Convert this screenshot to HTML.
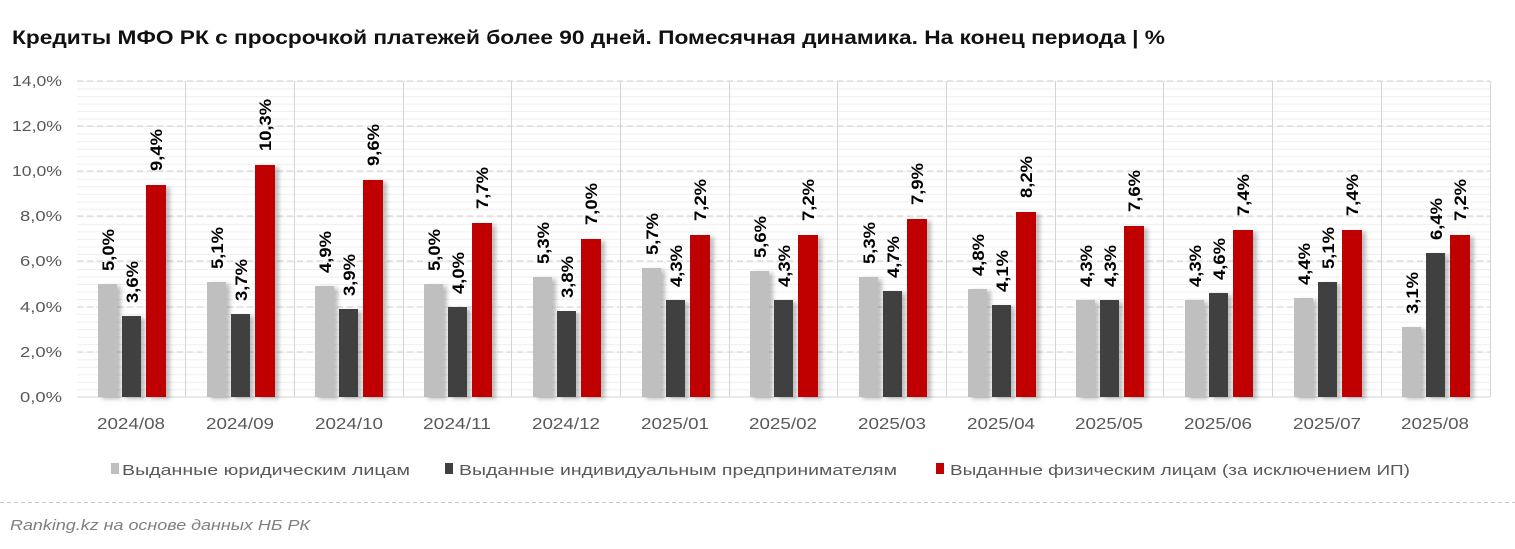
<!DOCTYPE html>
<html><head><meta charset="utf-8"><style>
html,body{margin:0;padding:0;background:#fff;}
svg{display:block;font-family:"Liberation Sans",sans-serif;}
.t{font-size:15px;fill:#595959;}
.l{font-size:17px;font-weight:bold;fill:#000;}
</style></head><body>
<svg width="1515" height="549" viewBox="0 0 1515 549" xmlns="http://www.w3.org/2000/svg">
<defs>
<pattern id="mg" width="10" height="7.52" patternUnits="userSpaceOnUse" y="81">
<line x1="0" y1="0.5" x2="10" y2="0.5" stroke="#efefef" stroke-width="1"/>
</pattern>
<filter id="sh" x="-30%" y="-10%" width="180%" height="120%"><feDropShadow dx="4" dy="2" stdDeviation="2" flood-color="#000" flood-opacity="0.25"/></filter>
</defs>
<text x="12" y="44" font-size="19" font-weight="bold" fill="#111" textLength="1153" lengthAdjust="spacingAndGlyphs">Кредиты МФО РК с просрочкой платежей более 90 дней. Помесячная динамика. На конец периода | %</text>
<rect x="77" y="81" width="1413" height="316" fill="url(#mg)"/>
<g stroke="#d0d0d0" stroke-dasharray="6,4" stroke-width="1">
<line x1="77" y1="81" x2="1490" y2="81"/><line x1="77" y1="126" x2="1490" y2="126"/><line x1="77" y1="171" x2="1490" y2="171"/><line x1="77" y1="216" x2="1490" y2="216"/><line x1="77" y1="261" x2="1490" y2="261"/><line x1="77" y1="307" x2="1490" y2="307"/><line x1="77" y1="352" x2="1490" y2="352"/>
</g>
<g stroke="#d4d4d4" stroke-width="1">
<line x1="77" y1="397" x2="1490" y2="397"/>
<line x1="185.5" y1="81" x2="185.5" y2="397"/><line x1="294.5" y1="81" x2="294.5" y2="397"/><line x1="403.5" y1="81" x2="403.5" y2="397"/><line x1="511.5" y1="81" x2="511.5" y2="397"/><line x1="620.5" y1="81" x2="620.5" y2="397"/><line x1="729.5" y1="81" x2="729.5" y2="397"/><line x1="837.5" y1="81" x2="837.5" y2="397"/><line x1="946.5" y1="81" x2="946.5" y2="397"/><line x1="1055.5" y1="81" x2="1055.5" y2="397"/><line x1="1163.5" y1="81" x2="1163.5" y2="397"/><line x1="1272.5" y1="81" x2="1272.5" y2="397"/><line x1="1381.5" y1="81" x2="1381.5" y2="397"/><line x1="1490.5" y1="81" x2="1490.5" y2="397"/>
</g>
<g class="t" text-anchor="end" lengthAdjust="spacingAndGlyphs">
<text x="62" y="86" textLength="50" lengthAdjust="spacingAndGlyphs">14,0%</text><text x="62" y="131" textLength="50" lengthAdjust="spacingAndGlyphs">12,0%</text><text x="62" y="176" textLength="50" lengthAdjust="spacingAndGlyphs">10,0%</text><text x="62" y="221" textLength="42" lengthAdjust="spacingAndGlyphs">8,0%</text><text x="62" y="266" textLength="42" lengthAdjust="spacingAndGlyphs">6,0%</text><text x="62" y="312" textLength="42" lengthAdjust="spacingAndGlyphs">4,0%</text><text x="62" y="357" textLength="42" lengthAdjust="spacingAndGlyphs">2,0%</text><text x="62" y="402" textLength="42" lengthAdjust="spacingAndGlyphs">0,0%</text>
</g>
<g class="t" text-anchor="middle" style="font-size:16px">
<text x="131" y="429" textLength="68" lengthAdjust="spacingAndGlyphs">2024/08</text><text x="240" y="429" textLength="68" lengthAdjust="spacingAndGlyphs">2024/09</text><text x="349" y="429" textLength="68" lengthAdjust="spacingAndGlyphs">2024/10</text><text x="457" y="429" textLength="68" lengthAdjust="spacingAndGlyphs">2024/11</text><text x="566" y="429" textLength="68" lengthAdjust="spacingAndGlyphs">2024/12</text><text x="675" y="429" textLength="68" lengthAdjust="spacingAndGlyphs">2025/01</text><text x="783" y="429" textLength="68" lengthAdjust="spacingAndGlyphs">2025/02</text><text x="892" y="429" textLength="68" lengthAdjust="spacingAndGlyphs">2025/03</text><text x="1001" y="429" textLength="68" lengthAdjust="spacingAndGlyphs">2025/04</text><text x="1109" y="429" textLength="68" lengthAdjust="spacingAndGlyphs">2025/05</text><text x="1218" y="429" textLength="68" lengthAdjust="spacingAndGlyphs">2025/06</text><text x="1327" y="429" textLength="68" lengthAdjust="spacingAndGlyphs">2025/07</text><text x="1435" y="429" textLength="68" lengthAdjust="spacingAndGlyphs">2025/08</text>
</g>
<g filter="url(#sh)">
<g fill="#bfbfbf">
<rect x="98" y="284" width="19" height="113"/><rect x="207" y="282" width="19" height="115"/><rect x="315" y="286" width="19" height="111"/><rect x="424" y="284" width="19" height="113"/><rect x="533" y="277" width="19" height="120"/><rect x="642" y="268" width="19" height="129"/><rect x="750" y="271" width="19" height="126"/><rect x="859" y="277" width="19" height="120"/><rect x="968" y="289" width="19" height="108"/><rect x="1076" y="300" width="19" height="97"/><rect x="1185" y="300" width="19" height="97"/><rect x="1294" y="298" width="19" height="99"/><rect x="1402" y="327" width="19" height="70"/>
</g>
<g fill="#404040">
<rect x="122" y="316" width="19" height="81"/><rect x="231" y="314" width="19" height="83"/><rect x="339" y="309" width="19" height="88"/><rect x="448" y="307" width="19" height="90"/><rect x="557" y="311" width="19" height="86"/><rect x="666" y="300" width="19" height="97"/><rect x="774" y="300" width="19" height="97"/><rect x="883" y="291" width="19" height="106"/><rect x="992" y="305" width="19" height="92"/><rect x="1100" y="300" width="19" height="97"/><rect x="1209" y="293" width="19" height="104"/><rect x="1318" y="282" width="19" height="115"/><rect x="1426" y="253" width="19" height="144"/>
</g>
<g fill="#c00000">
<rect x="146" y="185" width="20" height="212"/><rect x="255" y="165" width="20" height="232"/><rect x="363" y="180" width="20" height="217"/><rect x="472" y="223" width="20" height="174"/><rect x="581" y="239" width="20" height="158"/><rect x="690" y="235" width="20" height="162"/><rect x="798" y="235" width="20" height="162"/><rect x="907" y="219" width="20" height="178"/><rect x="1016" y="212" width="20" height="185"/><rect x="1124" y="226" width="20" height="171"/><rect x="1233" y="230" width="20" height="167"/><rect x="1342" y="230" width="20" height="167"/><rect x="1450" y="235" width="20" height="162"/>
</g>
</g>
<g class="l">
<text transform="translate(114,271) rotate(-90)" textLength="42" lengthAdjust="spacingAndGlyphs">5,0%</text><text transform="translate(138,303) rotate(-90)" textLength="42" lengthAdjust="spacingAndGlyphs">3,6%</text><text transform="translate(162,171) rotate(-90)" textLength="42" lengthAdjust="spacingAndGlyphs">9,4%</text>
<text transform="translate(223,269) rotate(-90)" textLength="42" lengthAdjust="spacingAndGlyphs">5,1%</text><text transform="translate(247,301) rotate(-90)" textLength="42" lengthAdjust="spacingAndGlyphs">3,7%</text><text transform="translate(271,151) rotate(-90)" textLength="52" lengthAdjust="spacingAndGlyphs">10,3%</text>
<text transform="translate(331,273) rotate(-90)" textLength="42" lengthAdjust="spacingAndGlyphs">4,9%</text><text transform="translate(355,296) rotate(-90)" textLength="42" lengthAdjust="spacingAndGlyphs">3,9%</text><text transform="translate(379,166) rotate(-90)" textLength="42" lengthAdjust="spacingAndGlyphs">9,6%</text>
<text transform="translate(440,271) rotate(-90)" textLength="42" lengthAdjust="spacingAndGlyphs">5,0%</text><text transform="translate(464,294) rotate(-90)" textLength="42" lengthAdjust="spacingAndGlyphs">4,0%</text><text transform="translate(488,209) rotate(-90)" textLength="42" lengthAdjust="spacingAndGlyphs">7,7%</text>
<text transform="translate(549,264) rotate(-90)" textLength="42" lengthAdjust="spacingAndGlyphs">5,3%</text><text transform="translate(573,298) rotate(-90)" textLength="42" lengthAdjust="spacingAndGlyphs">3,8%</text><text transform="translate(597,225) rotate(-90)" textLength="42" lengthAdjust="spacingAndGlyphs">7,0%</text>
<text transform="translate(658,255) rotate(-90)" textLength="42" lengthAdjust="spacingAndGlyphs">5,7%</text><text transform="translate(682,287) rotate(-90)" textLength="42" lengthAdjust="spacingAndGlyphs">4,3%</text><text transform="translate(706,221) rotate(-90)" textLength="42" lengthAdjust="spacingAndGlyphs">7,2%</text>
<text transform="translate(766,258) rotate(-90)" textLength="42" lengthAdjust="spacingAndGlyphs">5,6%</text><text transform="translate(790,287) rotate(-90)" textLength="42" lengthAdjust="spacingAndGlyphs">4,3%</text><text transform="translate(814,221) rotate(-90)" textLength="42" lengthAdjust="spacingAndGlyphs">7,2%</text>
<text transform="translate(875,264) rotate(-90)" textLength="42" lengthAdjust="spacingAndGlyphs">5,3%</text><text transform="translate(899,278) rotate(-90)" textLength="42" lengthAdjust="spacingAndGlyphs">4,7%</text><text transform="translate(923,205) rotate(-90)" textLength="42" lengthAdjust="spacingAndGlyphs">7,9%</text>
<text transform="translate(984,276) rotate(-90)" textLength="42" lengthAdjust="spacingAndGlyphs">4,8%</text><text transform="translate(1008,292) rotate(-90)" textLength="42" lengthAdjust="spacingAndGlyphs">4,1%</text><text transform="translate(1032,198) rotate(-90)" textLength="42" lengthAdjust="spacingAndGlyphs">8,2%</text>
<text transform="translate(1092,287) rotate(-90)" textLength="42" lengthAdjust="spacingAndGlyphs">4,3%</text><text transform="translate(1116,287) rotate(-90)" textLength="42" lengthAdjust="spacingAndGlyphs">4,3%</text><text transform="translate(1140,212) rotate(-90)" textLength="42" lengthAdjust="spacingAndGlyphs">7,6%</text>
<text transform="translate(1201,287) rotate(-90)" textLength="42" lengthAdjust="spacingAndGlyphs">4,3%</text><text transform="translate(1225,280) rotate(-90)" textLength="42" lengthAdjust="spacingAndGlyphs">4,6%</text><text transform="translate(1249,216) rotate(-90)" textLength="42" lengthAdjust="spacingAndGlyphs">7,4%</text>
<text transform="translate(1310,285) rotate(-90)" textLength="42" lengthAdjust="spacingAndGlyphs">4,4%</text><text transform="translate(1334,269) rotate(-90)" textLength="42" lengthAdjust="spacingAndGlyphs">5,1%</text><text transform="translate(1358,216) rotate(-90)" textLength="42" lengthAdjust="spacingAndGlyphs">7,4%</text>
<text transform="translate(1418,314) rotate(-90)" textLength="42" lengthAdjust="spacingAndGlyphs">3,1%</text><text transform="translate(1442,240) rotate(-90)" textLength="42" lengthAdjust="spacingAndGlyphs">6,4%</text><text transform="translate(1466,221) rotate(-90)" textLength="42" lengthAdjust="spacingAndGlyphs">7,2%</text>
</g>
<g class="t">
<rect x="111" y="463" width="8" height="11" fill="#bfbfbf"/><text x="122" y="475" textLength="288" lengthAdjust="spacingAndGlyphs">Выданные юридическим лицам</text>
<rect x="445" y="463" width="8" height="11" fill="#404040"/><text x="459" y="475" textLength="438" lengthAdjust="spacingAndGlyphs">Выданные индивидуальным предпринимателям</text>
<rect x="936" y="463" width="8" height="11" fill="#c00000"/><text x="950" y="475" textLength="460" lengthAdjust="spacingAndGlyphs">Выданные физическим лицам (за исключением ИП)</text>
</g>
<line x1="0" y1="502.5" x2="1515" y2="502.5" stroke="#c8c8c8" stroke-dasharray="4,3"/>
<text x="10" y="530" font-size="15" font-style="italic" fill="#7f7f7f" textLength="300" lengthAdjust="spacingAndGlyphs">Ranking.kz на основе данных НБ РК</text>
</svg>
</body></html>
